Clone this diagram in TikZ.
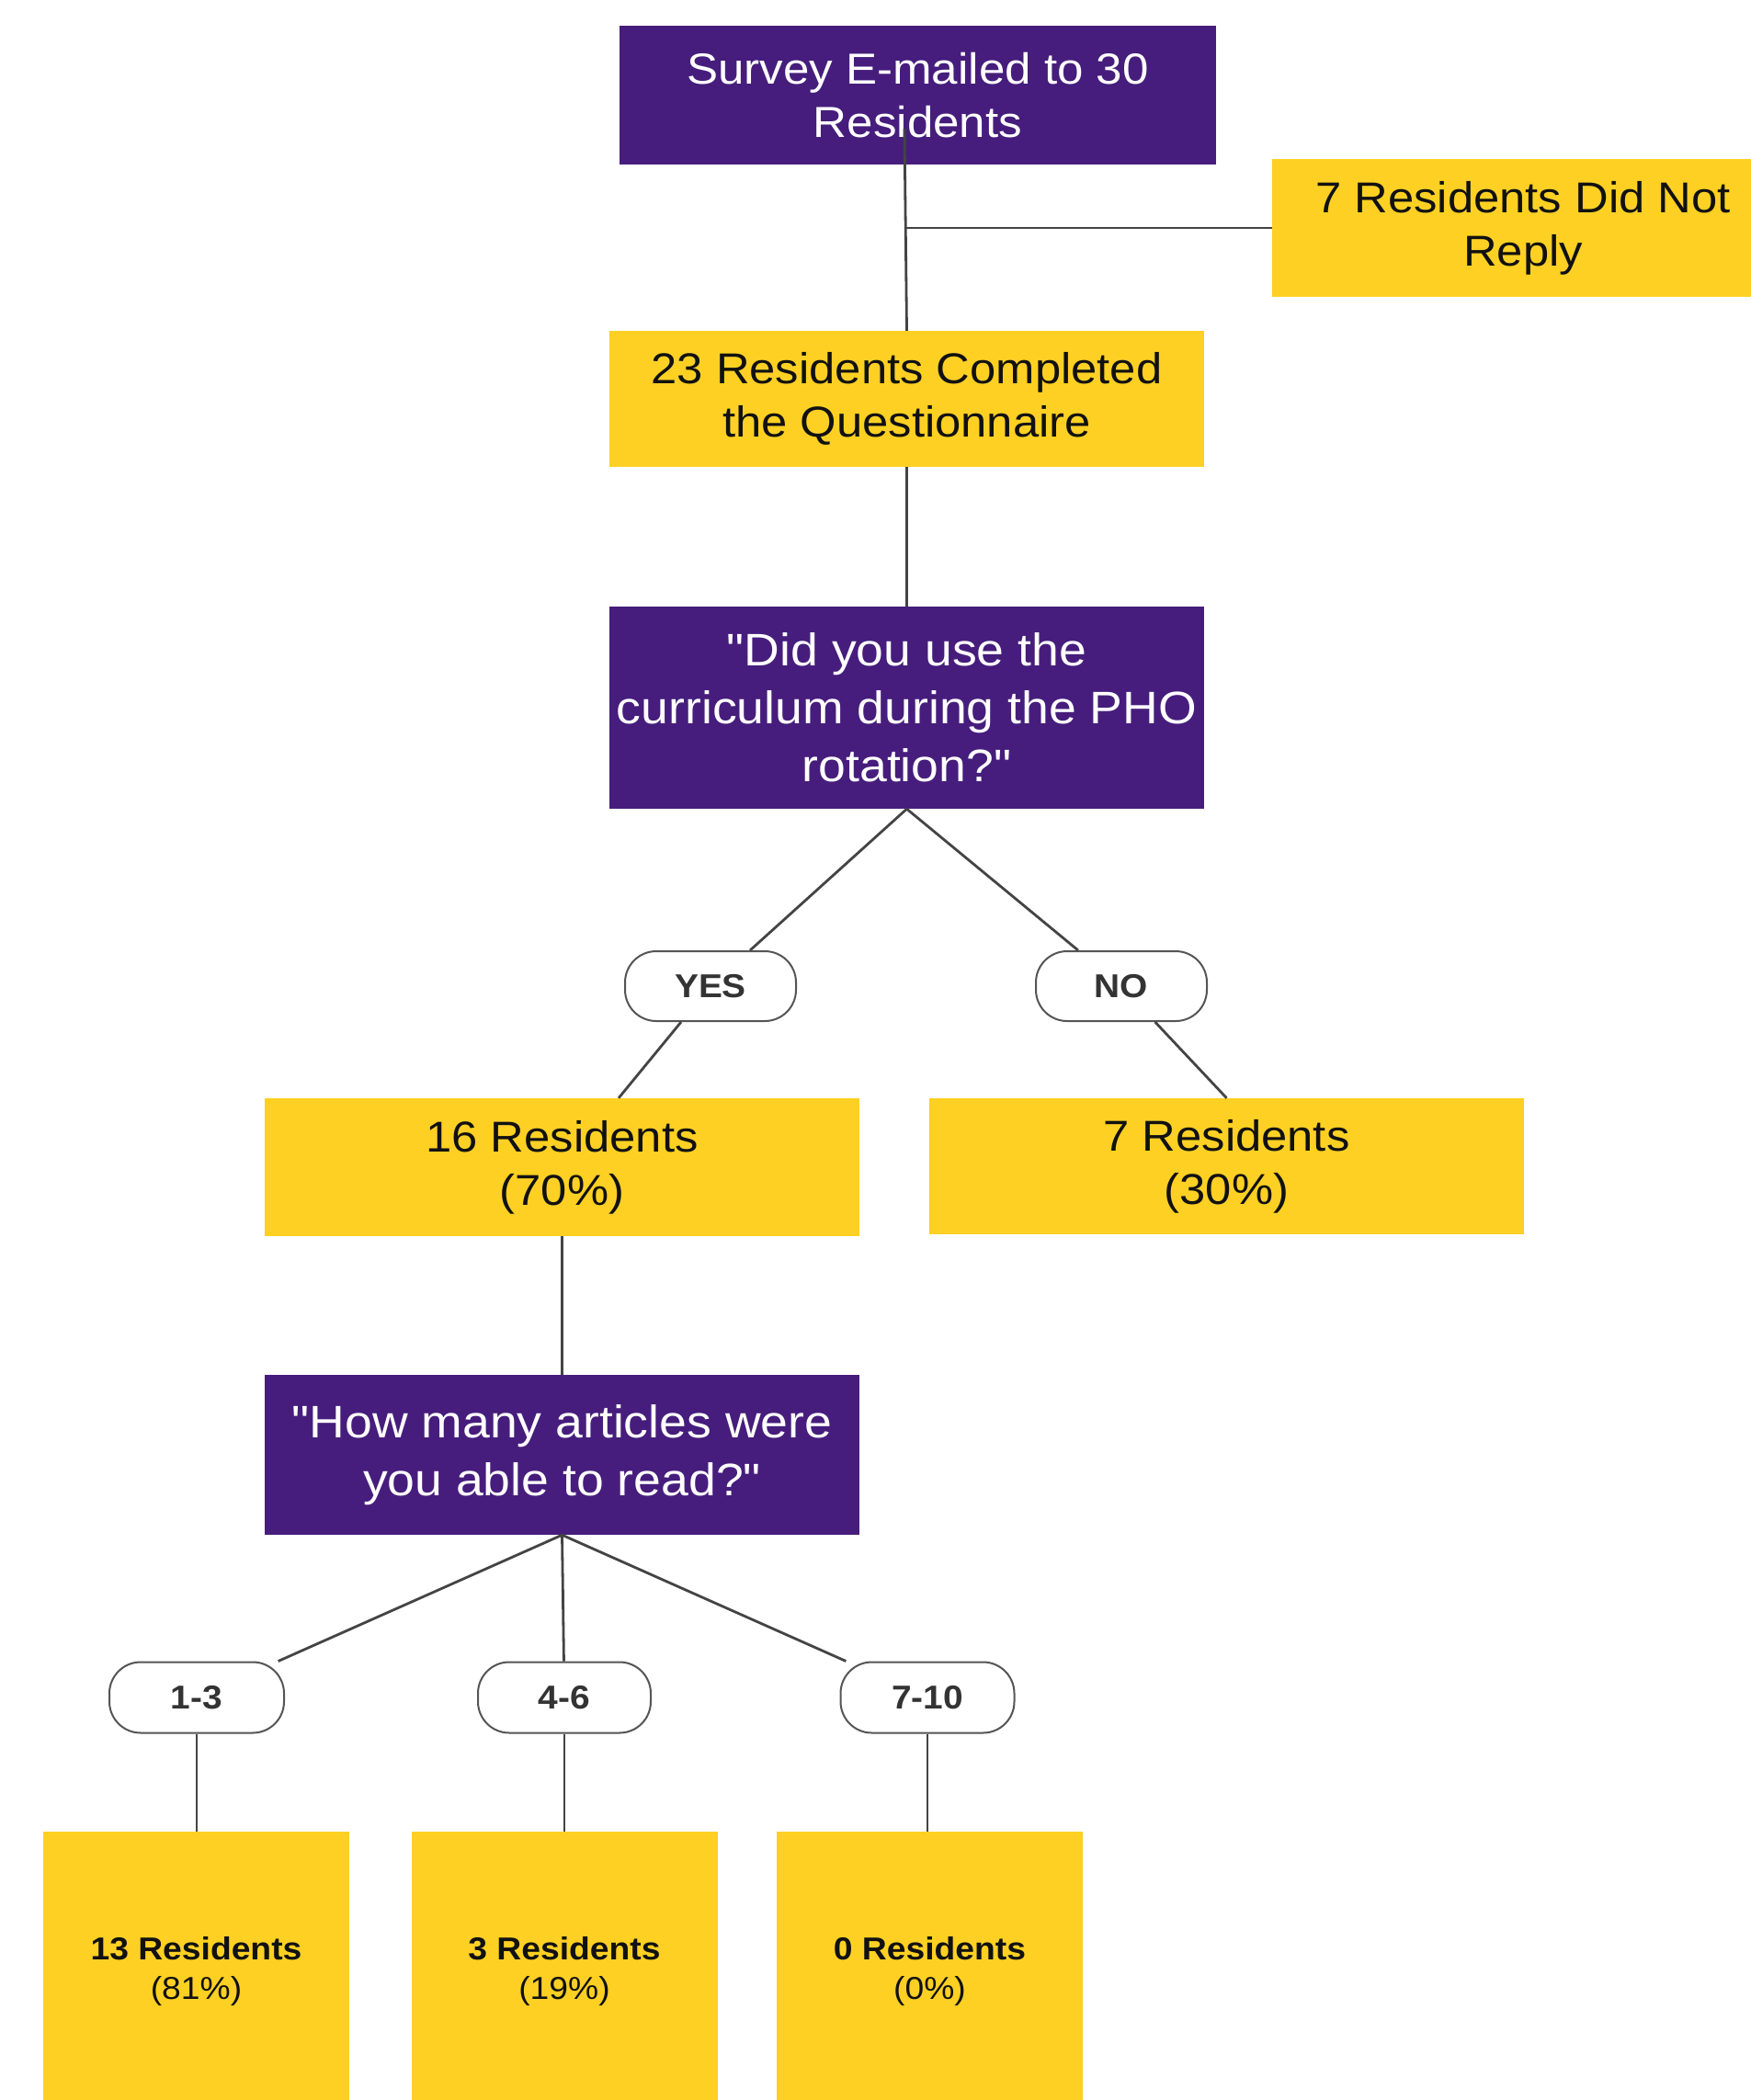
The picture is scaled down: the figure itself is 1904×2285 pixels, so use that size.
\documentclass[tikz,border=0pt]{standalone}
\usepackage{fontspec}
\setmainfont{Liberation Sans}[FakeStretch=1.08, Ligatures=TeXOff]
\definecolor{lsupurple}{HTML}{461D7C}
\definecolor{lsugold}{HTML}{FDD023}
\definecolor{connc}{HTML}{444444}
\definecolor{pilltext}{HTML}{333333}
\definecolor{pillline}{HTML}{555555}
\definecolor{darktext}{HTML}{111111}
\begin{document}
\begin{tikzpicture}[x=1pt,y=-1pt,
  qbox/.style={fill=lsupurple, text=white, inner sep=0pt, align=center,
    font=\fontsize{49.6}{63}\selectfont},
  ybox/.style={fill=lsugold, text=darktext, inner sep=0pt, align=center,
    font=\fontsize{47}{58}\selectfont},
  pill/.style={draw=pillline, line width=2pt, rounded corners=34pt, fill=white,
    text=pilltext, inner sep=0pt, minimum width=186pt, minimum height=76pt,
    font=\bfseries\fontsize{36}{43}\selectfont},
  rbox/.style={fill=lsugold, text=darktext, inner sep=0pt, minimum width=333pt,
    minimum height=304pt, align=center, font=\fontsize{34.5}{43}\selectfont},
  conn/.style={draw=connc, line width=2.8pt}
]
\useasboundingbox[fill=white] (0,0) rectangle (1904,2285);

% boxes
\node[qbox, minimum width=649pt, minimum height=151pt,
      font=\fontsize{47.3}{58}\selectfont] (top) at (998.5,103.5)
      {Survey E-mailed to 30\\Residents};
\node[ybox, minimum width=546pt, minimum height=150pt] (nr) at (1657,248)
      {7 Residents Did Not\\Reply};
\node[ybox, minimum width=647pt, minimum height=148pt] (done) at (986.5,434)
      {23 Residents Completed\\the Questionnaire};
\node[qbox, minimum width=647pt, minimum height=220pt] (q1) at (986.5,770)
      {"Did you use the\\curriculum during the PHO\\rotation?"};
\node[pill] (yes) at (773,1073) {YES};
\node[pill] (no) at (1220,1073) {NO};
\node[ybox, minimum width=647pt, minimum height=150pt] (r16) at (611.5,1270)
      {16 Residents\\(70\%)};
\node[ybox, minimum width=647pt, minimum height=148pt] (r7) at (1334.5,1269)
      {7 Residents\\(30\%)};
\node[qbox, minimum width=647pt, minimum height=174pt] (q2) at (611.5,1583)
      {"How many articles were\\you able to read?"};
\node[pill, minimum width=190pt, minimum height=77pt] (p13) at (214,1847) {1-3};
\node[pill, minimum width=188pt, minimum height=77pt] (p46) at (614,1847) {4-6};
\node[pill, minimum width=189pt, minimum height=77pt] (p710) at (1009,1847) {7-10};
\node[rbox] (b13) at (213.5,2145) {{\bfseries 13 Residents}\\(81\%)};
\node[rbox] (b3) at (614,2145) {{\bfseries 3 Residents}\\(19\%)};
\node[rbox] (b0) at (1011.5,2145) {{\bfseries 0 Residents}\\(0\%)};

% connectors
\coordinate (tstart) at (984,140);
\coordinate (junc) at (984.5,248);
\draw[conn] (tstart) -- (done.north);
\draw[conn] (nr.west) -- (junc);
\draw[conn] (done.south) -- (q1.north);
\draw[conn] (q1.south) -- (yes);
\draw[conn] (q1.south) -- (no);
\draw[conn] (yes) -- (r16);
\draw[conn] (no) -- (r7.north);
\draw[conn] (r16.south) -- (q2.north);
\draw[conn] (q2.south) -- (p13);
\draw[conn] (q2.south) -- (p46);
\draw[conn] (q2.south) -- (p710);
\draw[conn] (p13) -- (b13.north -| p13);
\draw[conn] (p46) -- (b3.north -| p46);
\draw[conn] (p710) -- (b0.north -| p710);
\end{tikzpicture}
\end{document}
